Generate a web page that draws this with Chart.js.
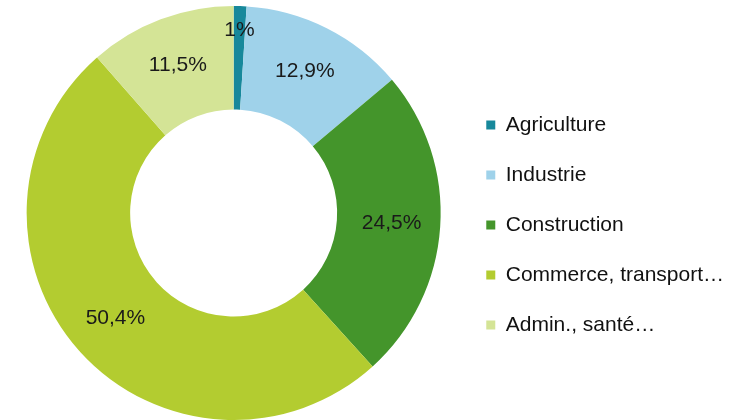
<!DOCTYPE html>
<html>
<head>
<meta charset="utf-8">
<script src="https://cdn.jsdelivr.net/npm/chart.js@4/dist/chart.umd.min.js"></script>
<style>
  html, body { margin: 0; padding: 0; background: #fff; overflow: hidden; }
  #wrap { position: relative; width: 737px; height: 420px; }
</style>
</head>
<body>
<div id="wrap"><canvas id="donut"></canvas></div>
<script>
var sectors = ['Agriculture', 'Industrie', 'Construction', 'Commerce, transport…', 'Admin., santé…'];
var shares = [1, 12.9, 24.5, 50.4, 11.5];
var sectorColors = ['#17889b', '#9fd2ea', '#44952b', '#b3cc30', '#d4e496'];
// how far out in the ring each value label sits (0 = hole edge, 1 = outer edge)
var labelDepth = [0.77, 0.53, 0.53, 0.53, 0.53];

// writes the percentage on each slice, french decimal comma
var sliceLabels = {
    id: 'sliceLabels',
    afterDatasetsDraw: function (chart) {
        var ctx = chart.ctx;
        var meta = chart.getDatasetMeta(0);
        var values = chart.data.datasets[0].data;
        ctx.save();
        ctx.font = '21px "Liberation Sans", Arial, sans-serif';
        ctx.fillStyle = '#1a1a1a';
        ctx.textAlign = 'center';
        ctx.textBaseline = 'middle';
        meta.data.forEach(function (arc, i) {
            var p = arc.getProps(['x', 'y', 'startAngle', 'endAngle', 'innerRadius', 'outerRadius'], true);
            var mid = (p.startAngle + p.endAngle) / 2;
            var r = p.innerRadius + (p.outerRadius - p.innerRadius) * labelDepth[i];
            var txt = values[i].toLocaleString('fr-FR') + '%';
            ctx.fillText(txt, p.x + Math.cos(mid) * r, p.y + Math.sin(mid) * r);
        });
        ctx.restore();
    }
};

new Chart(document.getElementById('donut'), {
    type: 'doughnut',
    data: {
        labels: sectors,
        datasets: [{
            data: shares,
            backgroundColor: sectorColors,
            borderWidth: 0
        }]
    },
    options: {
        responsive: true,
        maintainAspectRatio: false,
        animation: false,
        cutout: '50%',
        layout: {
            padding: { left: 10, right: 3, top: 6, bottom: 0 }
        },
        plugins: {
            tooltip: { enabled: false },
            legend: {
                position: 'right',
                align: 'center',
                // empty title only pushes the list down a little
                title: { display: true, text: '', font: { size: 10 }, padding: 6 },
                labels: {
                    boxWidth: 9,
                    boxHeight: 9,
                    padding: 29,
                    color: '#111',
                    font: { family: '"Liberation Sans", Arial, sans-serif', size: 21 }
                }
            }
        }
    },
    plugins: [sliceLabels]
});
</script>
</body>
</html>
